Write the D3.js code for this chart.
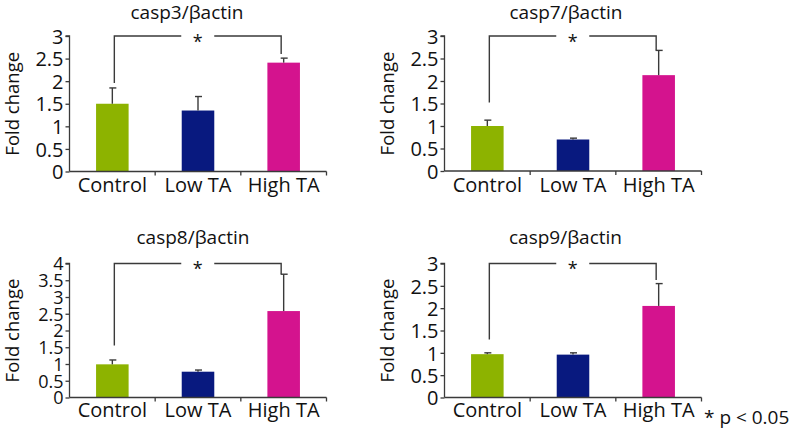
<!DOCTYPE html>
<html><head><meta charset="utf-8">
<script src="https://cdnjs.cloudflare.com/ajax/libs/d3/7.8.5/d3.min.js"></script>
<style>
html,body{margin:0;padding:0;background:#fff;}
svg{display:block;font-family:"Open Sans",sans-serif;}
</style></head>
<body>
<svg id="chart" width="795" height="430"></svg>
<script>
// ---- data ----
const categories = ["Control", "Low TA", "High TA"];
const titles = ["casp3/βactin", "casp7/βactin", "casp8/βactin", "casp9/βactin"];
const casp3Values = [1.50, 1.35, 2.41];
const casp3Errors = [0.35, 0.31, 0.10];
const casp7Values = [1.00, 0.70, 2.13];
const casp7Errors = [0.13, 0.03, 0.55];
const casp8Values = [0.99, 0.77, 2.58];
const casp8Errors = [0.13, 0.05, 1.10];
const casp9Values = [0.97, 0.96, 2.05];
const casp9Errors = [0.03, 0.04, 0.50];
const yMaxes = [3, 3, 4, 3];
const yTickValues3 = [0, 0.5, 1, 1.5, 2, 2.5, 3];
const yTickValues4 = [0, 0.5, 1, 1.5, 2, 2.5, 3, 3.5, 4];
// significance bracket: lower ends of left (Control) and right (High TA) legs
const bracketLeftEnds = [1.96, 1.52, 1.55, 1.30];
const bracketRightEnds = [2.60, 2.68, 3.68, 2.63];
const yLabel = "Fold change";
const sigMark = "*";
const footnote = "* p < 0.05";

const valuesAll = [casp3Values, casp7Values, casp8Values, casp9Values];
const errorsAll = [casp3Errors, casp7Errors, casp8Errors, casp9Errors];
const ticksAll = [yTickValues3, yTickValues3, yTickValues4, yTickValues3];

// ---- layout ----
const colors = ["#8db300", "#08197f", "#d4138e"];
const ink = "#3a3a3a";
const layout = [
  {left: 69.5, right: 326.5, top: 36, bottom: 171.5, titleX: 187, titleY: 18.5, tickFont: 20},
  {left: 444.5, right: 701.5, top: 36, bottom: 171, titleX: 566, titleY: 18.5, tickFont: 20},
  {left: 69.5, right: 326.5, top: 263.5, bottom: 397.5, titleX: 193, titleY: 244, tickFont: 18},
  {left: 444.5, right: 701.5, top: 263.5, bottom: 397.5, titleX: 565.5, titleY: 244, tickFont: 20}
];

const svg = d3.select("#chart");

layout.forEach((L, i) => {
  const g = svg.append("g");
  const x = d3.scaleBand().domain(categories).range([L.left, L.right])
    .paddingInner(0.62).paddingOuter(0.31);
  const y = d3.scaleLinear().domain([0, yMaxes[i]]).range([L.bottom, L.top]);
  const vals = valuesAll[i], errs = errorsAll[i];

  // bars
  g.selectAll("rect.bar").data(categories).join("rect")
    .attr("class", "bar")
    .attr("x", d => x(d))
    .attr("width", x.bandwidth())
    .attr("y", (d, j) => y(vals[j]))
    .attr("height", (d, j) => y(0) - y(vals[j]))
    .attr("fill", (d, j) => colors[j]);

  // error bars
  const eb = g.selectAll("g.err").data(categories).join("g").attr("class", "err")
    .attr("stroke", ink).attr("stroke-width", 1.4);
  eb.append("line")
    .attr("x1", d => x(d) + x.bandwidth() / 2).attr("x2", d => x(d) + x.bandwidth() / 2)
    .attr("y1", (d, j) => y(vals[j])).attr("y2", (d, j) => y(vals[j] + errs[j]));
  eb.append("line")
    .attr("x1", d => x(d) + x.bandwidth() / 2 - 3).attr("x2", d => x(d) + x.bandwidth() / 2 + 4)
    .attr("y1", (d, j) => y(vals[j] + errs[j])).attr("y2", (d, j) => y(vals[j] + errs[j]));

  // y axis
  const yAxis = d3.axisLeft(y).tickValues(ticksAll[i]).tickSize(4).tickPadding(2)
    .tickFormat(d3.format("~g"));
  const ya = g.append("g").attr("transform", `translate(${L.left},0)`).call(yAxis);
  ya.select(".domain").attr("stroke", ink).attr("stroke-width", 1.3)
    .attr("d", `M-4,${y(yMaxes[i])}H0V${y(0)}`);
  ya.selectAll(".tick line").attr("stroke", ink).attr("stroke-width", 1.3);
  ya.selectAll(".tick text").attr("fill", "#111").style("font-size", L.tickFont + "px")
    .style("font-family", "'Open Sans',sans-serif").attr("dy", "0.36em");

  // x axis with ticks at category boundaries
  const xa = g.append("g").attr("transform", `translate(0,${L.bottom})`);
  xa.append("path").attr("fill", "none").attr("stroke", ink).attr("stroke-width", 1.3)
    .attr("d", `M${L.left},0H${L.right}`);
  const step = x.step();
  const bounds = d3.range(1, categories.length + 1).map(k => L.left + k * step);
  xa.selectAll("line.bt").data(bounds).join("line").attr("class", "bt")
    .attr("x1", d => d).attr("x2", d => d).attr("y1", 0).attr("y2", 4)
    .attr("stroke", ink).attr("stroke-width", 1.3);
  xa.selectAll("text").data(categories).join("text")
    .attr("x", d => x(d) + x.bandwidth() / 2)
    .attr("y", i < 2 ? 20.5 : 19.5)
    .attr("text-anchor", "middle").attr("fill", "#111")
    .style("font-size", "20px").text(d => d);

  // y label
  g.append("text")
    .attr("transform", `translate(${L.left - 51},${(L.top + L.bottom) / 2}) rotate(-90)`)
    .attr("text-anchor", "middle").attr("fill", "#111").style("font-size", "18.5px")
    .text(yLabel);

  // title
  g.append("text").attr("x", L.titleX).attr("y", L.titleY)
    .attr("text-anchor", "middle").attr("fill", "#111").style("font-size", "19px")
    .text(titles[i]);

  // significance bracket
  const xl = x(categories[0]) + x.bandwidth() / 2 + 2;
  const xr = x(categories[2]) + x.bandwidth() / 2 - 2.5;
  const yb = y(yMaxes[i]);
  const xm = (xl + xr) / 2;
  const gap = 16.5;
  g.append("path").attr("fill", "none").attr("stroke", ink).attr("stroke-width", 1.4)
    .attr("d", `M${xl},${y(bracketLeftEnds[i])}V${yb}H${xm - gap}M${xm + gap},${yb}H${xr}V${y(bracketRightEnds[i])}`);
  g.append("text").attr("x", xm).attr("y", yb + 11.5)
    .attr("text-anchor", "middle").attr("fill", "#111").style("font-size", "18px")
    .text(sigMark);
});

svg.append("text").attr("x", 704).attr("y", 424).attr("fill", "#111")
  .style("font-size", "19px").text(footnote);
</script>
</body></html>
